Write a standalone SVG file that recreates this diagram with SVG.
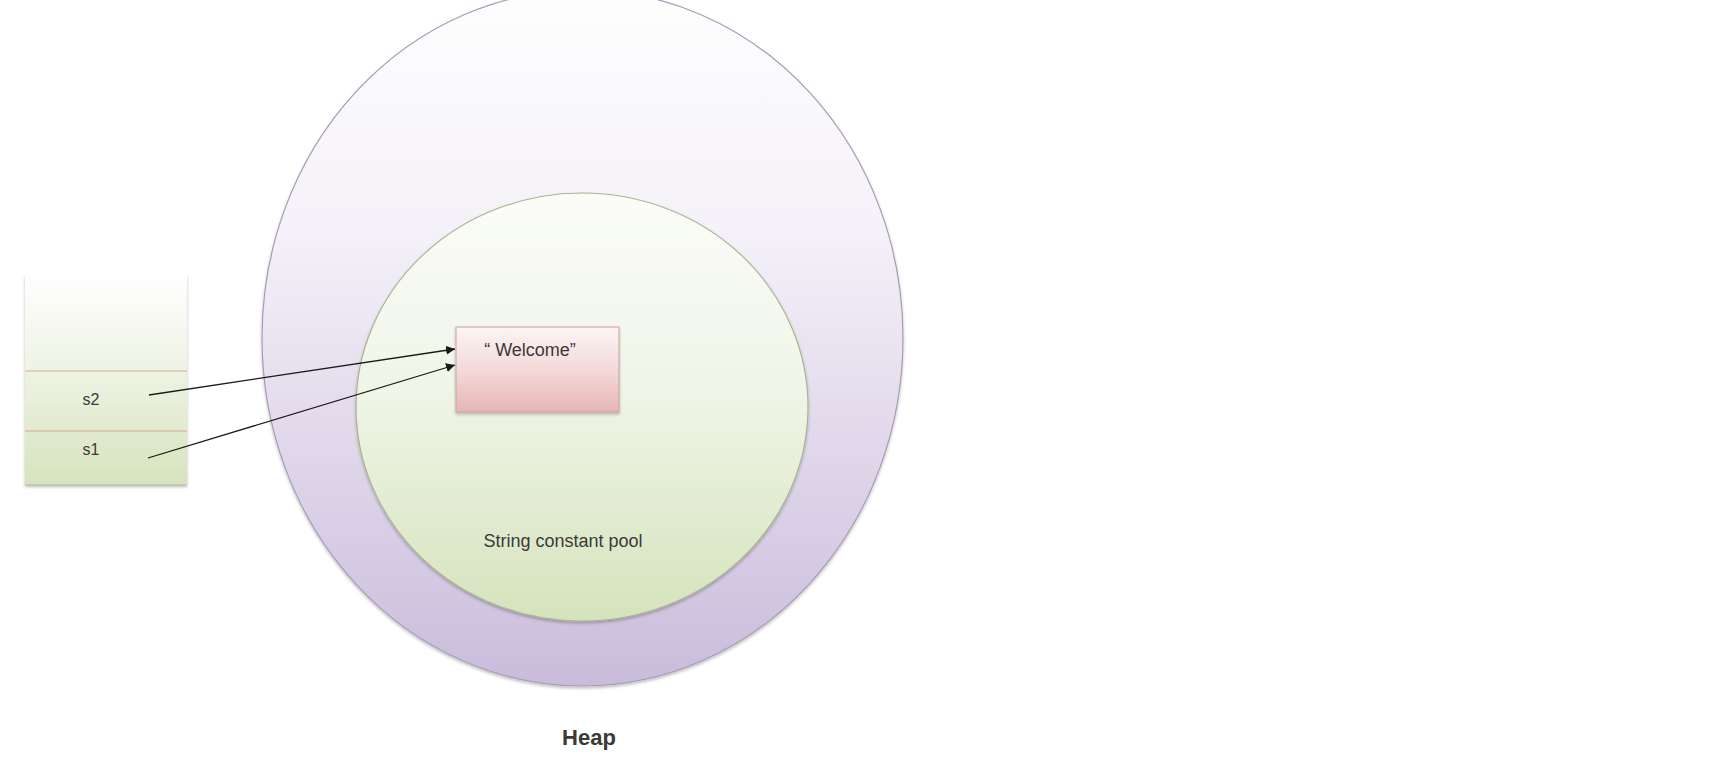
<svg xmlns="http://www.w3.org/2000/svg" width="1714" height="762" viewBox="0 0 1714 762">
  <style>
    .lbl { font-family: "Liberation Sans", Arial, sans-serif; fill: #3a3a3a; }
    .conn { stroke: #1a1a1a; stroke-width: 1.3; fill: none; marker-end: url(#arrow); }
  </style>
  <defs>
    <linearGradient id="gOuter" x1="0" y1="0" x2="0" y2="1">
      <stop offset="0" stop-color="#fefefe"/>
      <stop offset="0.35" stop-color="#f4f1f8"/>
      <stop offset="0.6" stop-color="#e4dced"/>
      <stop offset="1" stop-color="#c9bcdb"/>
    </linearGradient>
    <linearGradient id="gInner" x1="0" y1="0" x2="0" y2="1">
      <stop offset="0" stop-color="#fbfcf8"/>
      <stop offset="0.45" stop-color="#f0f5e8"/>
      <stop offset="1" stop-color="#d5e3bc"/>
    </linearGradient>
    <linearGradient id="gStack" x1="0" y1="0" x2="0" y2="1">
      <stop offset="0" stop-color="#ffffff"/>
      <stop offset="0.45" stop-color="#eef3e4"/>
      <stop offset="1" stop-color="#d6e3bd"/>
    </linearGradient>
    <linearGradient id="gStackLine" x1="0" y1="0" x2="0" y2="1">
      <stop offset="0" stop-color="#c0c8b0" stop-opacity="0"/>
      <stop offset="0.15" stop-color="#c0c8b0" stop-opacity="1"/>
      <stop offset="1" stop-color="#b2bf98"/>
    </linearGradient>
    <linearGradient id="gBox" x1="0" y1="0" x2="0" y2="1">
      <stop offset="0" stop-color="#fdf4f4"/>
      <stop offset="0.5" stop-color="#f4d9d9"/>
      <stop offset="1" stop-color="#e5b6b5"/>
    </linearGradient>
    <filter id="shadow" x="-10%" y="-10%" width="120%" height="125%">
      <feDropShadow dx="0" dy="2" stdDeviation="1.5" flood-color="#000000" flood-opacity="0.25"/>
    </filter>
    <marker id="arrow" viewBox="0 0 10 10" refX="10" refY="5" markerWidth="9" markerHeight="9" markerUnits="userSpaceOnUse" orient="auto">
      <path d="M0,0 L10,5 L0,10 z" fill="#1a1a1a"/>
    </marker>
  </defs>

  <rect width="1714" height="762" fill="#ffffff"/>

  <g id="heap">
    <ellipse cx="582.5" cy="338" rx="320.5" ry="348" fill="url(#gOuter)" stroke="#a79bb6" stroke-width="1.2" filter="url(#shadow)"/>
    <text class="lbl" x="589" y="745" font-size="22" font-weight="bold" text-anchor="middle">Heap</text>
  </g>

  <g id="pool">
    <ellipse cx="582" cy="407" rx="226" ry="214" fill="url(#gInner)" stroke="#a9b592" stroke-width="1.2" filter="url(#shadow)"/>
    <text class="lbl" x="563" y="547" font-size="18" text-anchor="middle">String constant pool</text>
  </g>

  <g id="stack">
    <rect x="25" y="275" width="162" height="210" fill="url(#gStack)" stroke="none" filter="url(#shadow)"/>
    <line x1="25" y1="275" x2="25" y2="485" stroke="url(#gStackLine)" stroke-width="1.2"/>
    <line x1="187" y1="275" x2="187" y2="485" stroke="url(#gStackLine)" stroke-width="1.2"/>
    <line x1="25" y1="485" x2="187" y2="485" stroke="#b2bf98" stroke-width="1.2"/>
    <line x1="25" y1="371" x2="187" y2="371" stroke="#d9a88e" stroke-width="1.2"/>
    <line x1="25" y1="431" x2="187" y2="431" stroke="#d9a88e" stroke-width="1.2"/>
  </g>

  <g id="s2">
    <text class="lbl" x="91" y="405" font-size="16" text-anchor="middle">s2</text>
  </g>

  <g id="s1">
    <text class="lbl" x="91" y="455" font-size="16" text-anchor="middle">s1</text>
  </g>

  <g id="welcome">
    <rect x="456" y="327" width="163" height="85" fill="url(#gBox)" stroke="#c7a0a0" stroke-width="1" filter="url(#shadow)"/>
    <text class="lbl" x="530" y="356" font-size="18" text-anchor="middle">“ Welcome”</text>
  </g>

  <g id="connectors">
    <line class="conn" x1="149" y1="395" x2="455" y2="349"/>
    <line class="conn" x1="148" y1="458" x2="455" y2="365"/>
  </g>
</svg>
